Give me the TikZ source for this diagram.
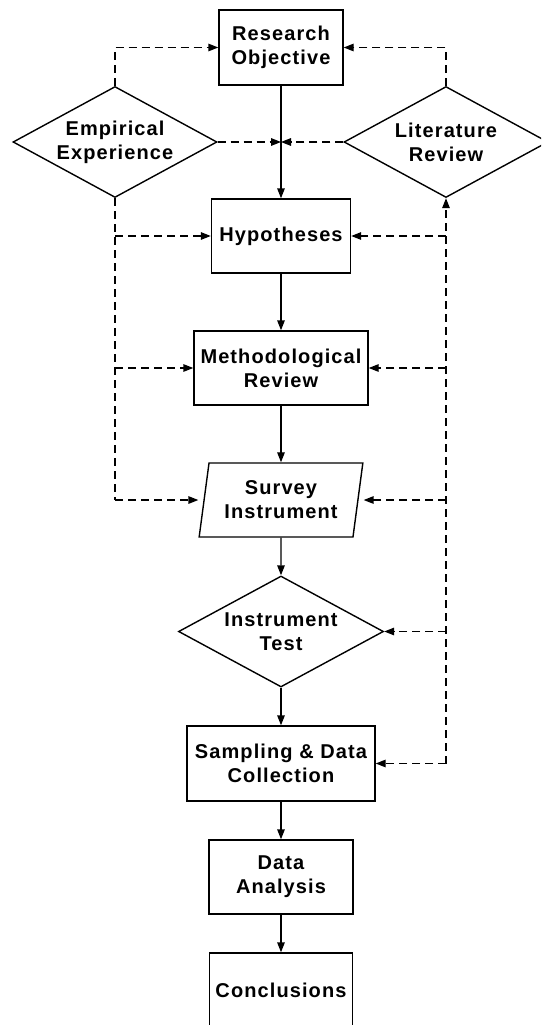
\documentclass[tikz,border=0pt]{standalone}
\usepackage{fontspec}
\setmainfont{Liberation Sans}[LetterSpace=5.5]
\usetikzlibrary{shapes.geometric,arrows.meta}

\tikzset{
  lbl/.style={font=\bfseries\fontsize{20}{24}\selectfont, align=center, inner sep=0pt},
  box/.style={lbl, draw, rectangle, minimum height=74pt},
  decision/.style={lbl, draw, diamond, aspect=1.84, minimum width=204pt, minimum height=111pt},
  io/.style={lbl, draw, trapezium, trapezium left angle=78.5, trapezium right angle=101.5,
             trapezium stretches=true, minimum width=164pt, minimum height=74pt},
  flow/.style={-{Triangle[length=10pt,width=7.5pt]}},
  link/.style={flow, dash pattern=on 8pt off 5pt},
  plain/.style={dash pattern=on 8pt off 5pt}
}

\begin{document}
\begin{tikzpicture}[x=1pt, y=-1pt, line width=1.4pt]
  \clip (0,0) rectangle (541,1025);

  % main sequence
  \node[box, minimum width=124pt, minimum height=75pt] (obj) at (281,47.5) {Research\\Objective};
  \node[decision] (emp) at (115,142) {Empirical\\Experience};
  \node[decision] (lit) at (446,142) {Literature\\Review};
  \node[box, minimum width=139pt] (hyp) at (281,236) {Hypotheses};
  \node[box, minimum width=174pt] (meth) at (281,368) {Methodological\\Review};
  \node[io] (surv) at (281,500) {Survey\\Instrument};
  \node[decision, minimum width=205pt] (test) at (281,631.5) {Instrument\\Test};
  \node[box, minimum width=188pt, minimum height=75pt] (samp) at (281,763.5) {Sampling \& Data\\Collection};
  \node[box, minimum width=144pt] (ana) at (281,877) {Data\\Analysis};
  \node[box, minimum width=143pt] (con) at (281,990) {Conclusions};

  % solid flow
  \draw[flow] (obj) -- (hyp);
  \draw[flow] (hyp) -- (meth);
  \draw[flow] (meth) -- (surv);
  \draw[flow] (surv) -- (test);
  \draw[flow] (test) -- (samp);
  \draw[flow] (samp) -- (ana);
  \draw[flow] (ana) -- (con);

  % junction on the main line between the two diamonds
  \coordinate (j) at (obj.south |- emp.east);
  \draw[link] (emp.east) -- (j);
  \draw[link] (lit.west) -- (j);

  % feedback up to the objective
  \draw[link] (emp.north) |- (obj.west);
  \draw[link] (lit.north) |- (obj.east);

  % left rail: empirical experience
  \coordinate (lrail) at (emp.south |- surv.center);
  \draw[plain] (emp.south) -- (lrail);
  \draw[link] (lrail) -- (surv.bottom left corner |- surv.center);
  \draw[link] (emp.south |- hyp.west) -- (hyp.west);
  \draw[link] (emp.south |- meth.west) -- (meth.west);

  % right rail: literature review
  \coordinate (rrail) at (lit.south |- samp.east);
  \draw[link] (rrail) -- (lit.south);
  \draw[link] (rrail) -- (samp.east);
  \draw[link] (lit.south |- test.east) -- (test.east);
  \draw[link] (lit.south |- surv.center) -- (surv.top right corner |- surv.center);
  \draw[link] (lit.south |- meth.east) -- (meth.east);
  \draw[link] (lit.south |- hyp.east) -- (hyp.east);
\end{tikzpicture}
\end{document}
